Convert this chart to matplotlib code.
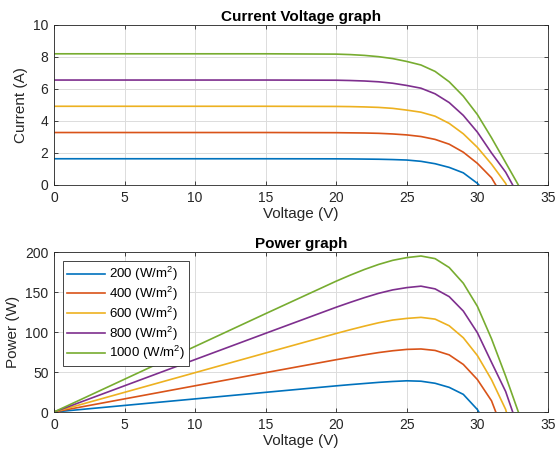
import matplotlib
matplotlib.use("Agg")
import matplotlib.pyplot as plt
import numpy as np

plt.rcParams['font.family'] = ['Liberation Sans', 'DejaVu Sans']
plt.rcParams['mathtext.fontset'] = 'custom'
plt.rcParams['mathtext.rm'] = 'Liberation Sans'

labels = ['200 (W/m$^{2}$)', '400 (W/m$^{2}$)', '600 (W/m$^{2}$)', '800 (W/m$^{2}$)', '1000 (W/m$^{2}$)']
colors = ['#0072BD', '#D95319', '#EDB120', '#7E2F8E', '#77AC30']

v_blue = [0, 5, 10, 15, 20, 21, 22, 23, 24, 25, 26, 27, 28, 29, 30, 30.1]
i_blue = [1.64, 1.64, 1.64, 1.64, 1.635, 1.63, 1.62, 1.61, 1.59, 1.56, 1.48, 1.33, 1.10, 0.76, 0.10, 0.0]

v_red = [0, 5, 10, 15, 20, 21, 22, 23, 24, 25, 26, 27, 28, 29, 30, 31, 31.3]
i_red = [3.28, 3.28, 3.28, 3.28, 3.27, 3.26, 3.25, 3.23, 3.19, 3.13, 3.03, 2.85, 2.55, 2.05, 1.35, 0.45, 0.0]

v_yel = [0, 5, 10, 15, 20, 21, 22, 23, 24, 25, 26, 27, 28, 29, 30, 31, 32, 32.05]
i_yel = [4.92, 4.92, 4.92, 4.92, 4.91, 4.90, 4.88, 4.85, 4.79, 4.68, 4.55, 4.30, 3.85, 3.20, 2.35, 1.30, 0.10, 0.0]

v_pur = [0, 5, 10, 15, 20, 21, 22, 23, 24, 25, 26, 27, 28, 29, 30, 31, 32, 32.5]
i_pur = [6.56, 6.56, 6.56, 6.56, 6.55, 6.53, 6.50, 6.45, 6.36, 6.22, 6.05, 5.70, 5.15, 4.35, 3.30, 2.00, 0.80, 0.0]

v_grn = [0, 5, 10, 15, 20, 21, 22, 23, 24, 25, 26, 27, 28, 29, 30, 31, 32, 32.9]
i_grn = [8.20, 8.20, 8.20, 8.20, 8.18, 8.15, 8.10, 8.02, 7.90, 7.72, 7.50, 7.10, 6.45, 5.55, 4.40, 2.95, 1.40, 0.0]

series_v = [v_blue, v_red, v_yel, v_pur, v_grn]
series_i = [i_blue, i_red, i_yel, i_pur, i_grn]

W, H = 557, 457
fig = plt.figure(figsize=(W / 100, H / 100), dpi=100)
ax1 = fig.add_axes([54 / W, 1 - 185 / H, 494 / W, 160 / H])
ax2 = fig.add_axes([54 / W, 1 - 412 / H, 494 / W, 160 / H])

txt = '#262626'
for ax in (ax1, ax2):
    ax.set_xlim(0, 35)
    ax.set_xticks(np.arange(0, 36, 5))
    ax.grid(True, color='#dcdcdc', linewidth=0.7)
    ax.set_axisbelow(True)
    ax.tick_params(direction='in', top=True, right=True, labelsize=10, colors=txt, length=3, width=0.6, pad=4)
    for s in ax.spines.values():
        s.set_color('#262626')
        s.set_linewidth(0.6)
    ax.set_xlabel('Voltage (V)', fontsize=11, color=txt, labelpad=2)

for v, i, c, lab in zip(series_v, series_i, colors, labels):
    va = np.array(v)
    ia = np.array(i)
    ax1.plot(va, ia, color=c, lw=1.2)
    ax2.plot(va, va * ia, color=c, lw=1.2, label=lab)

ax1.set_ylim(0, 10)
ax1.set_yticks(np.arange(0, 11, 2))
ax1.set_ylabel('Current (A)', fontsize=11, color=txt, labelpad=4)
ax1.set_title('Current Voltage graph', fontsize=11, fontweight='bold', color='black', pad=3)

ax2.set_ylim(0, 200)
ax2.set_yticks(np.arange(0, 201, 50))
ax2.set_ylabel('Power (W)', fontsize=11, color=txt, labelpad=4)
ax2.set_title('Power graph', fontsize=11, fontweight='bold', color='black', pad=3)
leg = ax2.legend(loc='upper left', fontsize=9.5, frameon=True, fancybox=False, edgecolor='#262626',
                 handlelength=2.9, borderpad=0.3, labelspacing=0.12, handletextpad=0.3,
                 borderaxespad=0, bbox_to_anchor=(9 / 494, 1 - 9 / 160))
leg.get_frame().set_linewidth(0.6)
leg.get_frame().set_alpha(1)

fig.savefig('out.png', dpi=100)
